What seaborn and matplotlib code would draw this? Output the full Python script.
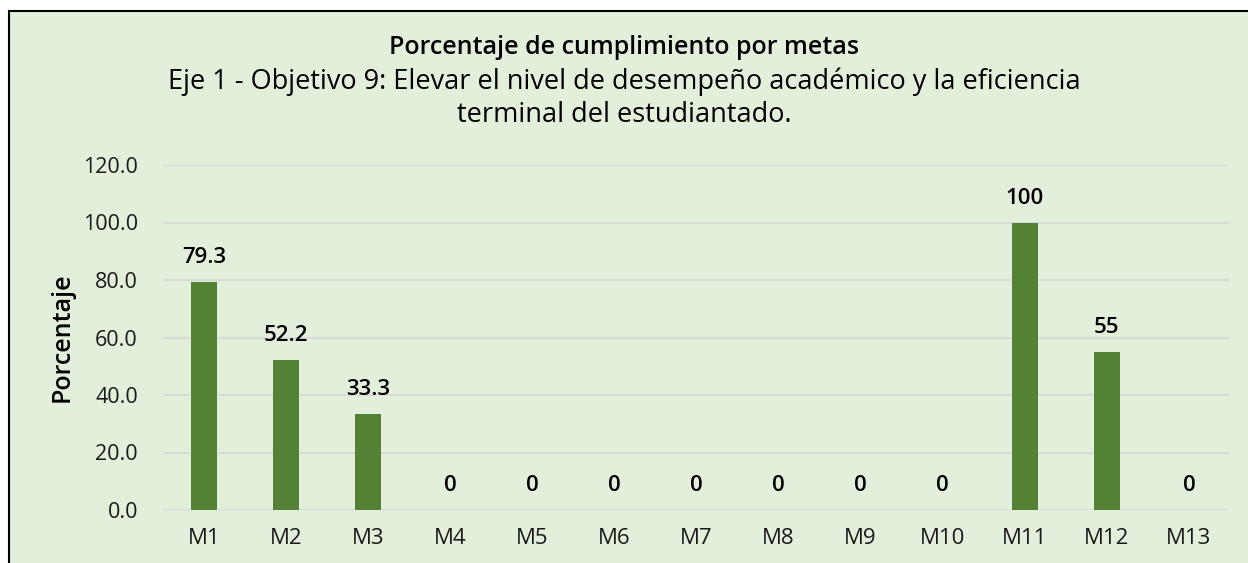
import seaborn as sns
import matplotlib.pyplot as plt
from matplotlib.patches import Rectangle
import pandas as pd

metas = ["M1", "M2", "M3", "M4", "M5", "M6", "M7", "M8", "M9", "M10", "M11", "M12", "M13"]
porcentaje = [79.3, 52.2, 33.3, 0, 0, 0, 0, 0, 0, 0, 100, 55, 0]
etiquetas = ["79.3", "52.2", "33.3", "0", "0", "0", "0", "0", "0", "0", "100", "55", "0"]

df = pd.DataFrame({"meta": metas, "pct": porcentaje})

bg = "#E2EFDA"
sns.set_theme(style="white")
plt.rcParams['font.family'] = ['Open Sans', 'DejaVu Sans']

fig = plt.figure(figsize=(12.48, 5.63), dpi=100)
fig.patch.set_facecolor("white")
# marco del grafico
fig.patches.append(Rectangle((9 / 1248, -0.1), 1.2, 1 - 11 / 563 + 0.1,
                             transform=fig.transFigure, facecolor=bg,
                             edgecolor="black", linewidth=1.5, zorder=-5))

ax = fig.add_axes([163 / 1248, 1 - 510 / 563, (1230 - 163) / 1248, (510 - 165) / 563])
ax.set_zorder(2)
ax.patch.set_alpha(0)

sns.barplot(data=df, x="meta", y="pct", color="#548235", width=0.32,
            saturation=1, linewidth=0, ax=ax, zorder=3)

ax.set_ylim(0, 120)
ax.set_xlim(-0.5, len(metas) - 0.5)
ax.set_yticks(range(0, 121, 20))
ax.set_yticklabels([f"{v:.1f}" for v in range(0, 121, 20)])
ax.grid(axis="y", color="#D9D9D9", linewidth=1.3, zorder=0)
ax.set_axisbelow(True)
for s in ax.spines.values():
    s.set_visible(False)
ax.tick_params(axis="both", length=0, labelsize=15.5, colors="#1a1a1a")
ax.tick_params(axis="x", pad=13, labelsize=16)
ax.tick_params(axis="y", pad=18)
ax.set_xlabel("")
ax.set_ylabel("Porcentaje", fontsize=18, fontweight="semibold", color="black",
              labelpad=6)

for i, (v, t) in enumerate(zip(porcentaje, etiquetas)):
    ax.annotate(t, xy=(i, v), xytext=(0, 10), textcoords="offset points",
                ha="center", va="bottom", fontsize=16, fontweight="semibold",
                color="black")

fig.text(0.5, 1 - 47 / 563, "Porcentaje de cumplimiento por metas", ha="center",
         va="center", fontsize=18, fontweight="semibold", color="black")
fig.text(0.5, 1 - 98 / 563,
         "Eje 1 - Objetivo 9: Elevar el nivel de desempeño académico y la eficiencia\n"
         "terminal del estudiantado.",
         ha="center", va="center", fontsize=19.5, color="black", linespacing=1.25)

fig.savefig("out.png", dpi=100, facecolor="white")
